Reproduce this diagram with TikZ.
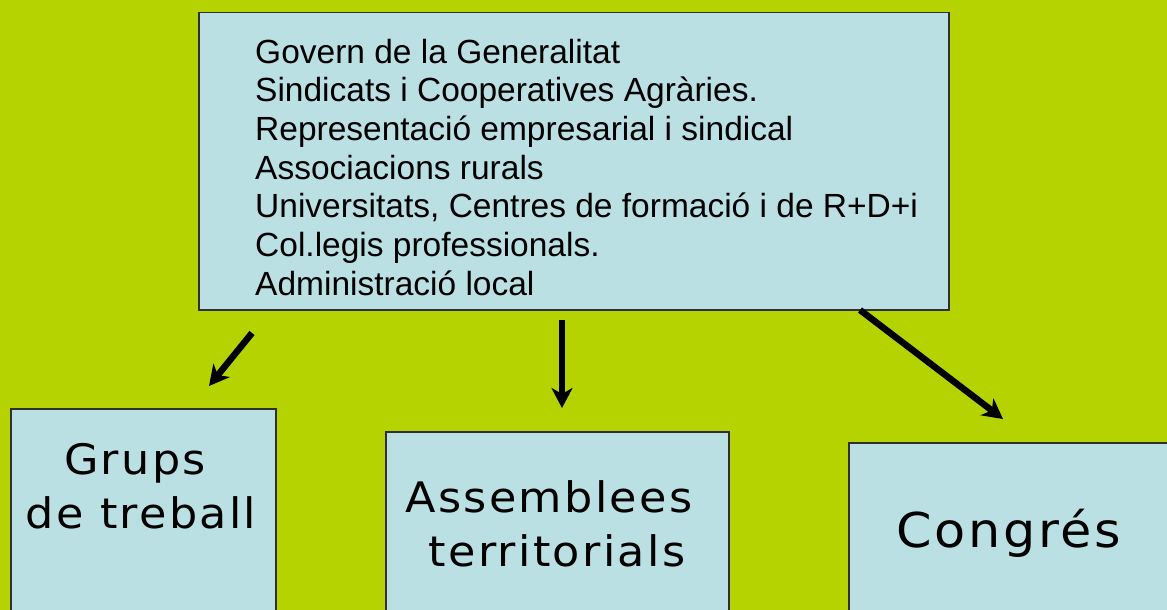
\documentclass[tikz,border=0pt]{standalone}
\usepackage{fontspec}
\setmainfont{Liberation Sans}
\newfontfamily\widefont[LetterSpace=5.5,FakeStretch=1.06]{DejaVu Sans}
\usetikzlibrary{arrows.meta}
\definecolor{bg}{HTML}{B5D300}
\definecolor{boxfill}{HTML}{BAE0E3}
\definecolor{boxline}{HTML}{303030}
\begin{document}
\begin{tikzpicture}[x=1pt,y=-1pt,
  box/.style={draw=boxline, line width=1.5pt, fill=boxfill, anchor=north west, inner sep=0pt},
  arr/.style={line width=6.5pt, -{Stealth[length=20pt,width=21pt,inset=6pt]}},
  big/.style={font=\widefont\fontsize{42}{54}\selectfont, align=center, inner sep=0pt, anchor=base},
  list/.style={font=\fontsize{33.5}{38.7}\selectfont, align=left, inner sep=0pt, anchor=base west}]
\fill[bg] (0,0) rectangle (1167,610);
\useasboundingbox (0,0) rectangle (1167,610);
\node[box, minimum width=750pt, minimum height=297pt] (top) at (198,12) {};
\node[list] (members) at (255,295.2) {Govern de la Generalitat\\
Sindicats i Cooperatives Agràries.\\
Representació empresarial i sindical\\
Associacions rurals\\
Universitats, Centres de formació i de R+D+i\\
Col.legis professionals.\\
Administració local};
\node[box, minimum width=265pt, minimum height=220pt] (grupsbox) at (10,408) {};
\node[box, minimum width=343pt, minimum height=200pt] (assbox) at (385,431) {};
\node[box, minimum width=340pt, minimum height=190pt] (congbox) at (848,442) {};
\node[big] (grups) at (141,528) {Grups\hspace*{12pt}\\de treball};
\node[big] (ass) at (557,566) {Assemblees\hspace*{16pt}\\territorials};
\node[big, font=\widefont\fontsize{48}{58}\selectfont] (cong) at (1009,547) {Congrés};
\coordinate (a1s) at (252,333);
\coordinate (a1e) at (209,386);
\coordinate (a2s) at (562,320);
\coordinate (a2e) at (562,408);
\coordinate (a3s) at (860,310);
\coordinate (a3e) at (1003,419);
\draw[arr] (a1s) -- (a1e);
\draw[arr] (a2s) -- (a2e);
\draw[arr] (a3s) -- (a3e);
\end{tikzpicture}
\end{document}
